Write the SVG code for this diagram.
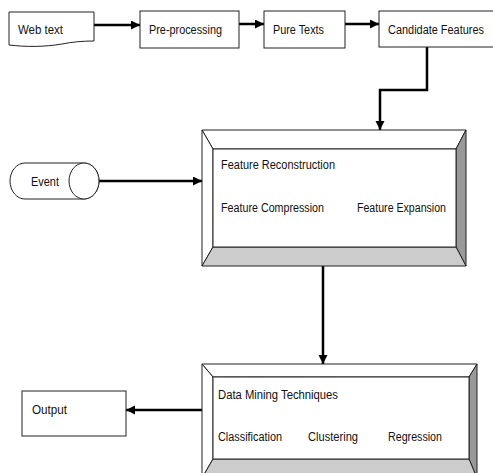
<svg xmlns="http://www.w3.org/2000/svg" width="493" height="473" viewBox="0 0 493 473">
<style>
.box{fill:#fff;stroke:#222;stroke-width:1}
.t{font-family:"Liberation Sans Narrow","Liberation Sans",Arial,sans-serif;font-size:12px;fill:#111}
.c{fill:none;stroke:#000;stroke-width:2.5}
.bw{fill:#fff;stroke:#222;stroke-width:1}
.bl{fill:#ccc;stroke:#222;stroke-width:1}
.bd{fill:#999;stroke:#222;stroke-width:1}
</style>
<defs>
<marker id="ah" markerUnits="userSpaceOnUse" markerWidth="10" markerHeight="10" refX="9" refY="4.5" orient="auto">
<path d="M0,0 L9,4.5 L0,9 Z" fill="#000"/>
</marker>
</defs>
<rect width="493" height="473" fill="#fff"/>
<g id="connectors">
<line class="c" x1="94" y1="25" x2="140" y2="25" marker-end="url(#ah)"/>
<line class="c" x1="239" y1="24" x2="264" y2="24" marker-end="url(#ah)"/>
<line class="c" x1="345" y1="24" x2="379" y2="24" marker-end="url(#ah)"/>
<polyline class="c" points="427,47 427,90 380,90 380,130" marker-end="url(#ah)"/>
<line class="c" x1="99" y1="181" x2="202" y2="181" marker-end="url(#ah)"/>
<line class="c" x1="323" y1="266" x2="323" y2="364" marker-end="url(#ah)"/>
<line class="c" x1="202" y1="410" x2="126" y2="410" marker-end="url(#ah)"/>
</g>
<g id="webtext">
<path class="box" d="M9,12 H94 V41 C82,41 72,42 62,44 C45,47 25,47 9,45 Z"/>
<text class="t" x="18" y="34" textLength="45" lengthAdjust="spacingAndGlyphs">Web text</text>
</g>
<g id="preprocessing">
<rect class="box" x="140" y="11" width="99" height="37"/>
<text class="t" x="149" y="34" textLength="73" lengthAdjust="spacingAndGlyphs">Pre-processing</text>
</g>
<g id="puretexts">
<rect class="box" x="264" y="11" width="81" height="37"/>
<text class="t" x="273" y="34" textLength="51" lengthAdjust="spacingAndGlyphs">Pure Texts</text>
</g>
<g id="candidate">
<rect class="box" x="379" y="11" width="120" height="36"/>
<text class="t" x="388" y="34" textLength="96" lengthAdjust="spacingAndGlyphs">Candidate Features</text>
</g>
<g id="event">
<path class="box" d="M25,163 H84 A15,18 0 0 1 84,199 H25 A15,18 0 0 1 25,163 Z"/>
<ellipse class="box" cx="84" cy="181" rx="15" ry="18"/>
<text class="t" x="31" y="186" textLength="28" lengthAdjust="spacingAndGlyphs">Event</text>
</g>
<g id="featurebox">
<polygon class="bw" points="202,130 466,130 456,149 213,149"/>
<polygon class="bw" points="202,130 213,149 213,247 202,266"/>
<polygon class="bd" points="466,130 466,266 456,247 456,149"/>
<polygon class="bl" points="202,266 466,266 456,247 213,247"/>
<rect class="box" x="213" y="149" width="243" height="98"/>
<text class="t" x="221" y="169" textLength="114" lengthAdjust="spacingAndGlyphs">Feature Reconstruction</text>
<text class="t" x="221" y="212" textLength="103" lengthAdjust="spacingAndGlyphs">Feature Compression</text>
<text class="t" x="357" y="212" textLength="89" lengthAdjust="spacingAndGlyphs">Feature Expansion</text>
</g>
<g id="datamining">
<polygon class="bw" points="202,364 477,364 469,377 213,377"/>
<polygon class="bw" points="202,364 213,377 213,459 202,478"/>
<polygon class="bd" points="477,364 477,478 469,459 469,377"/>
<polygon class="bl" points="202,478 477,478 469,459 213,459"/>
<rect class="box" x="213" y="377" width="256" height="82"/>
<text class="t" x="218" y="399" textLength="120" lengthAdjust="spacingAndGlyphs">Data Mining Techniques</text>
<text class="t" x="218" y="441" textLength="64" lengthAdjust="spacingAndGlyphs">Classification</text>
<text class="t" x="308" y="441" textLength="50" lengthAdjust="spacingAndGlyphs">Clustering</text>
<text class="t" x="388" y="441" textLength="54" lengthAdjust="spacingAndGlyphs">Regression</text>
</g>
<g id="output">
<rect class="box" x="22" y="391" width="104" height="45"/>
<text class="t" x="32" y="414" textLength="35" lengthAdjust="spacingAndGlyphs">Output</text>
</g>
</svg>
